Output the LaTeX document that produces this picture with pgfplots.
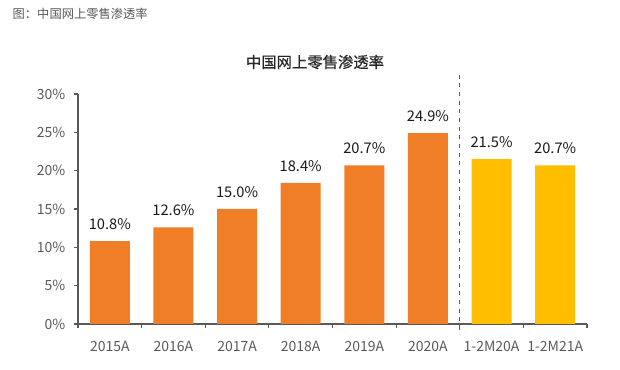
\documentclass[border=0pt]{standalone}
\usepackage{fontspec}
\setmainfont{Noto Sans CJK SC}
\newfontfamily\titlefont{Noto Sans CJK SC}[FakeBold=0.6]
\usepackage{pgfplots}
\pgfplotsset{compat=1.18}
\definecolor{orng}{HTML}{F07E26}
\definecolor{yel}{HTML}{FFBF00}
\definecolor{dred}{HTML}{B8323E}
\definecolor{axgray}{HTML}{595959}
\begin{document}
\begin{tikzpicture}
\path[use as bounding box] (-58.5pt,-34.5pt) rectangle (406.5pt,243pt);
\begin{axis}[
  at={(0,0)}, anchor=south west,
  scale only axis, width=381.75pt, height=172.5pt,
  xmin=-0.5, xmax=7.5, ymin=0, ymax=30,
  axis x line=bottom, axis y line=left,
  axis line style={-, draw=axgray, line width=0.9pt},
  tick style={draw=axgray, line width=0.9pt},
  tick align=outside, major tick length=3pt,
  /pgf/number format/assume math mode=true,
  ytick={0,5,...,30},
  yticklabel={\pgfmathprintnumber{\tick}\%},
  yticklabel style={font=\fontsize{10.5}{12}\selectfont, text=axgray, xshift=-3pt},
  xtick={-0.5,0.5,...,7.5}, xticklabels={},
  extra x ticks={0,1,...,7},
  extra x tick labels={2015A,2016A,2017A,2018A,2019A,2020A,1-2M20A,1-2M21A},
  extra x tick style={major tick length=0pt, xticklabel style={font=\fontsize{10.5}{12}\selectfont, text=axgray, yshift=-9.5pt}},
  ybar, bar width=30pt, bar shift=0pt,
  nodes near coords={\pgfmathprintnumber[fixed,fixed zerofill,precision=1]{\pgfplotspointmeta}\%},
  nodes near coords style={font=\fontsize{11}{13}\selectfont, text=black!90, yshift=5pt},
  clip=false,
]
\addplot[fill=orng, draw=none] coordinates {(0,10.8)(1,12.6)(2,15.0)(3,18.4)(4,20.7)(5,24.9)};
\addplot[fill=yel, draw=none] coordinates {(6,21.5)(7,20.7)};
\addplot[sharp plot, nodes near coords={}, draw=dred, line width=0.9pt, dash pattern=on 3pt off 3.5pt] coordinates {(5.5,-0.8)(5.5,33.1)};
\end{axis}
\node[font=\titlefont\fontsize{11.5}{13}\selectfont, text=black!85] at (177.75pt,196.5pt) {中国网上零售渗透率};
\node[anchor=west, font=\fontsize{9.2}{11}\selectfont, text=axgray] at (-52.5pt,232.5pt) {图：中国网上零售渗透率};
\end{tikzpicture}
\end{document}
